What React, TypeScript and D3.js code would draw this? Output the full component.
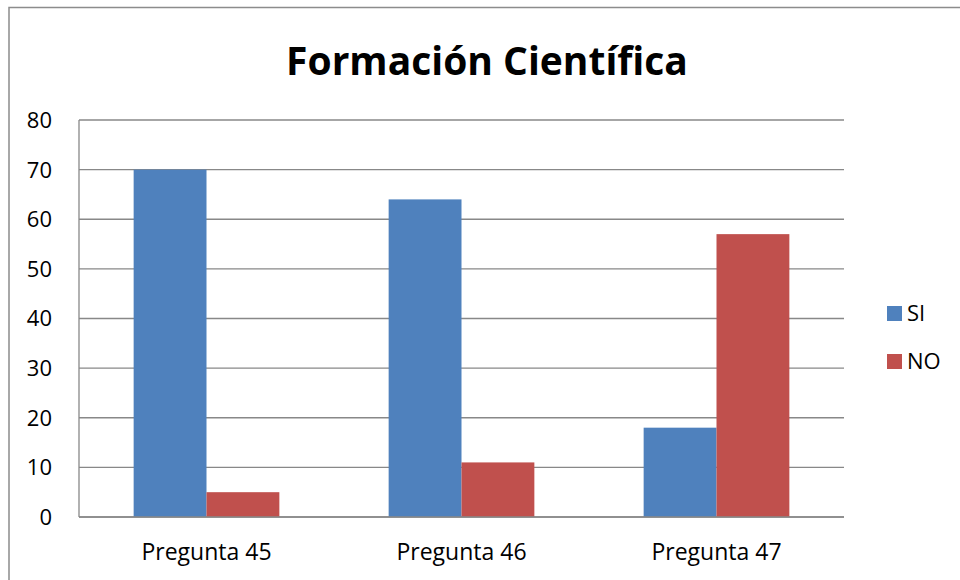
import React from "react";
import * as d3 from "d3";

const categories = ["Pregunta 45", "Pregunta 46", "Pregunta 47"];
const seriesNames = ["SI", "NO"];
const siValues = [70, 64, 18];
const noValues = [5, 11, 57];
const yTicks = [0, 10, 20, 30, 40, 50, 60, 70, 80];
const colors = ["#4F81BD", "#C0504D"];
const title = "Formación Científica";

const W = 960;
const H = 580;
const plot = { left: 79, right: 844, top: 120, bottom: 517 };
const font = "'Open Sans', 'Liberation Sans', sans-serif";

export default function App() {
  const x = d3
    .scaleBand<string>()
    .domain(categories)
    .range([plot.left, plot.right])
    .paddingInner(1.5 / 3.5)
    .paddingOuter(0.75 / 3.5);
  const xs = d3.scaleBand<string>().domain(seriesNames).range([0, x.bandwidth()]);
  const y = d3.scaleLinear().domain([0, 80]).range([plot.bottom, plot.top]);
  const series = [siValues, noValues];

  return (
    <svg
      width={W}
      height={H}
      style={{ position: "absolute", left: 0, top: 0, background: "#fff" }}
      fontFamily={font}
    >
      <rect x={0} y={0} width={W} height={H} fill="#fff" />
      <rect x={9} y={7.5} width={1000} height={1000} fill="none" stroke="#8c8c8c" strokeWidth={1.5} />
      <text x={487} y={75} textAnchor="middle" fontSize={39} fontWeight="bold" fill="#000">
        {title}
      </text>
      {yTicks.map((t) => (
        <g key={t}>
          <line x1={plot.left} x2={plot.right} y1={y(t)} y2={y(t)} stroke="#888" strokeWidth={1.3} />
          <text x={52} y={y(t)} dy="0.36em" textAnchor="end" fontSize={22} fill="#000">
            {t}
          </text>
        </g>
      ))}
      <line x1={plot.left} x2={plot.left} y1={plot.top} y2={plot.bottom} stroke="#888" strokeWidth={1.3} />
      {categories.map((c, i) => (
        <g key={c}>
          {series.map((vals, s) => (
            <rect
              key={s}
              x={(x(c) as number) + (xs(seriesNames[s]) as number)}
              y={y(vals[i])}
              width={xs.bandwidth()}
              height={y(0) - y(vals[i])}
              fill={colors[s]}
            />
          ))}
          <text x={(x(c) as number) + x.bandwidth() / 2} y={560} textAnchor="middle" fontSize={23} fill="#000">
            {c}
          </text>
        </g>
      ))}
      <line x1={plot.left} x2={plot.right} y1={y(0)} y2={y(0)} stroke="#888" strokeWidth={1.5} />
      {seriesNames.map((n, s) => (
        <g key={n} transform={`translate(887, ${306 + s * 48})`}>
          <rect x={0} y={0} width={15} height={15} fill={colors[s]} />
          <text x={20} y={7.5} dy="0.36em" fontSize={22} fill="#000">
            {n}
          </text>
        </g>
      ))}
    </svg>
  );
}
